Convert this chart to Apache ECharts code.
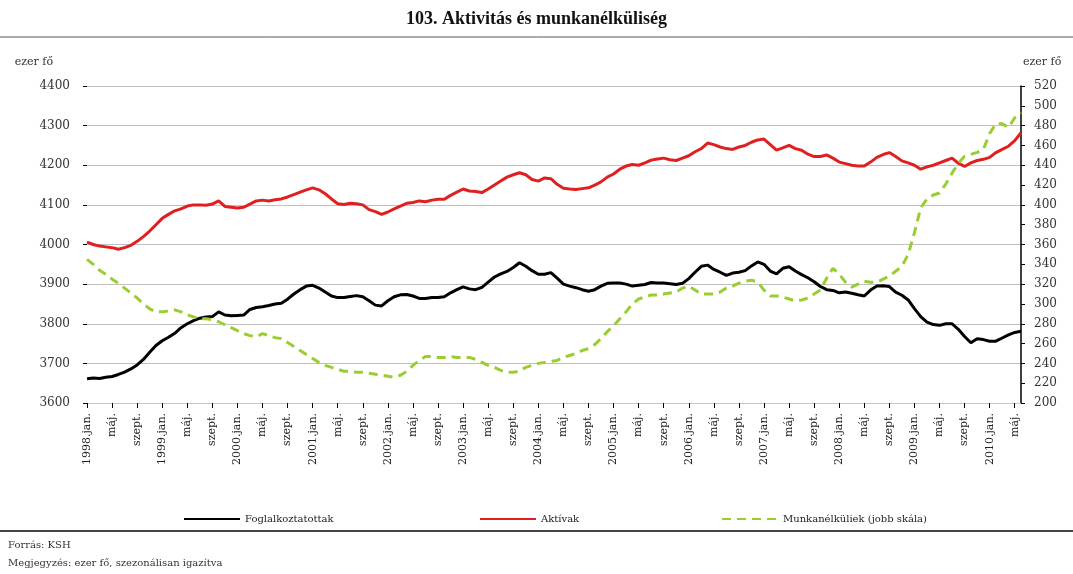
<!DOCTYPE html>
<html>
<head>
<meta charset="utf-8">
<script src="https://cdn.jsdelivr.net/npm/echarts@6/dist/echarts.min.js"></script>
<style>
  html, body { margin: 0; padding: 0; background: #fff; }
  #mainContent { width: 1073px; height: 574px; }
</style>
</head>
<body>
<div id="mainContent"></div>
<script>
// havi adatok 1998.jan. - 2010.jún.
var honapok = ['jan.', 'febr.', 'márc.', 'ápr.', 'máj.', 'jún.', 'júl.', 'aug.', 'szept.', 'okt.', 'nov.', 'dec.'];
var kezdoEv = 1998;
var honapokSzama = 150;

var foglalkoztatottak = [
    3661, 3663, 3662, 3665, 3667, 3672, 3678, 3686, 3696, 3710, 3728,
    3745, 3757, 3766, 3776, 3790, 3800, 3808, 3814, 3817, 3818,
    3830, 3822, 3820, 3821, 3822, 3836, 3841, 3843, 3846, 3850,
    3852, 3862, 3875, 3886, 3895, 3897, 3890, 3880, 3870, 3866,
    3866, 3869, 3871, 3868, 3858, 3847, 3845, 3858, 3868, 3873,
    3874, 3870, 3864, 3864, 3866, 3866, 3868, 3878, 3886, 3893,
    3888, 3886, 3892, 3905, 3918, 3926, 3932, 3942, 3954, 3945,
    3934, 3925, 3925, 3929, 3915, 3900, 3895, 3891, 3886, 3882,
    3886, 3895, 3902, 3903, 3903, 3900, 3895, 3897, 3899, 3904,
    3903, 3903, 3901, 3899, 3902, 3914, 3930, 3945, 3948, 3937,
    3930, 3922, 3928, 3930, 3934, 3946, 3956, 3950, 3933, 3926,
    3940, 3944, 3933, 3924, 3916, 3906, 3894, 3886, 3884, 3878,
    3880, 3877, 3873, 3870, 3885, 3895, 3896, 3894, 3880, 3872,
    3860, 3838, 3818, 3804, 3798, 3796, 3800, 3800, 3786, 3768,
    3752, 3762, 3760, 3756, 3756, 3764, 3772, 3778, 3781
];

var aktivak = [
    4006, 4000, 3996, 3994, 3992, 3988, 3992, 3998, 4008, 4020, 4034,
    4050, 4066, 4076, 4085, 4090, 4097, 4100, 4100, 4099, 4102,
    4110, 4096, 4094, 4092, 4094, 4102, 4110, 4112, 4110, 4113,
    4115, 4120, 4126, 4132, 4138, 4143, 4138, 4128, 4115, 4103,
    4101, 4104, 4103, 4100, 4088, 4083, 4076, 4082, 4090, 4097,
    4104, 4106, 4110, 4108, 4112, 4114, 4114, 4124, 4132, 4140,
    4135, 4134, 4131, 4140, 4150, 4160, 4170, 4176, 4181, 4176,
    4164, 4160, 4168, 4166, 4152, 4142, 4140, 4139, 4141, 4143,
    4150, 4158, 4170, 4178, 4190, 4198, 4202, 4200, 4206, 4213,
    4216, 4218, 4214, 4212, 4218, 4224, 4234, 4242, 4256, 4252,
    4246, 4242, 4240, 4246, 4250, 4258, 4264, 4266, 4252, 4238,
    4244, 4250, 4242, 4238, 4228, 4222, 4222, 4226, 4218, 4208,
    4204, 4200, 4198, 4198, 4208, 4220, 4227, 4232, 4222, 4211,
    4206, 4200, 4190, 4196, 4200, 4206, 4212, 4218, 4205, 4197,
    4206, 4212, 4215, 4220, 4232, 4240, 4248, 4262, 4282
];

var munkanelkuliek = [
    345, 340, 334, 330, 325, 321, 316, 311, 306, 300, 295,
    292, 292, 293, 294, 292, 289, 287, 285, 285, 284,
    282, 279, 276, 273, 270, 268, 267, 270, 268, 266,
    265, 261, 257, 253, 249, 245, 241, 238, 236, 234,
    232, 232, 231, 231, 230, 229, 228, 227, 226, 228,
    232, 238, 243, 247, 247, 246, 246, 247, 246, 246,
    246, 244, 241, 238, 236, 233, 231, 231, 232, 236,
    238, 240, 241, 242, 243, 246, 248, 250, 253, 255,
    259, 265, 272, 278, 285, 292, 300, 305, 307, 309,
    309, 310, 311, 312, 316, 318, 314, 310, 310, 310,
    312, 316, 318, 321, 323, 324, 322, 314, 308, 308,
    307, 305, 303, 304, 306, 310, 314, 326, 336, 330,
    322, 317, 320, 323, 322, 322, 325, 328, 333, 338,
    350, 372, 397, 406, 410, 412, 421, 432, 442, 449,
    451, 453, 456, 472, 482, 482, 478, 488, 493
];

var kategoriak = [];
for (var i = 0; i < honapokSzama; i++) {
    kategoriak.push((kezdoEv + Math.floor(i / 12)) + '.' + honapok[i % 12]);
}

var betu = 'DejaVu Serif, serif';
var cimBetu = 'Liberation Serif, Times New Roman, serif';

var myChart = echarts.init(document.getElementById('mainContent'));

option = {
    backgroundColor: '#fff',
    animation: false,
    title: {
        text: '103. Aktivitás és munkanélküliség',
        left: 'center',
        top: 5,
        textStyle: { fontFamily: cimBetu, fontSize: 18, fontWeight: 'bold', color: '#111' }
    },
    legend: [
        { data: ['Foglalkoztatottak'], left: 178, top: 509 },
        { data: ['Aktívak'], left: 474, top: 509 },
        { data: ['Munkanélküliek (jobb skála)'], left: 716, top: 509 }
    ].map(function (l) {
        l.itemWidth = 56;
        l.itemHeight = 6;
        l.itemGap = 6;
        l.itemStyle = { opacity: 0 };
        l.textStyle = { fontFamily: betu, fontSize: 10, color: '#222' };
        return l;
    }),
    grid: { left: 87, right: 52, top: 86, height: 317 },
    xAxis: {
        type: 'category',
        boundaryGap: false,
        data: kategoriak,
        axisLine: { show: true, lineStyle: { color: '#c8c8c8', width: 1 } },
        axisTick: { show: true, interval: 3, length: 5, lineStyle: { color: '#000' } },
        axisLabel: {
            interval: 3,
            rotate: 90,
            margin: 10,
            fontFamily: betu,
            fontSize: 11,
            color: '#222',
            formatter: function (v) {
                return v.indexOf('jan.') > 0 ? v : v.split('.')[1] + '.';
            }
        },
        splitLine: { show: false }
    },
    yAxis: [{
        type: 'value',
        min: 3600,
        max: 4400,
        interval: 100,
        name: 'ezer fő',
        nameGap: 18,
        nameTextStyle: { fontFamily: betu, fontSize: 11, color: '#333', align: 'right', padding: [0, 34, 0, 0] },
        axisLine: { show: false },
        axisTick: { show: true, length: 4, lineStyle: { color: '#000' } },
        axisLabel: {
            fontFamily: betu, fontSize: 12, color: '#333', margin: 17,
            formatter: function (v) { return String(v); }
        },
        splitLine: { lineStyle: { color: '#c0c0c0', width: 1 } }
    }, {
        type: 'value',
        position: 'right',
        min: 200,
        max: 520,
        interval: 20,
        name: 'ezer fő',
        nameGap: 18,
        nameTextStyle: { fontFamily: betu, fontSize: 11, color: '#333', align: 'left', padding: [0, 0, 0, 2] },
        axisLine: { show: true, lineStyle: { color: '#000', width: 1.5 } },
        axisTick: { show: true, length: 4, lineStyle: { color: '#000' } },
        axisLabel: {
            fontFamily: betu, fontSize: 12, color: '#333', margin: 13,
            formatter: function (v) { return String(v); }
        },
        splitLine: { show: false }
    }],
    series: [{
        name: 'Foglalkoztatottak',
        type: 'line',
        yAxisIndex: 0,
        symbol: 'none',
        data: foglalkoztatottak,
        lineStyle: { color: '#000', width: 3 },
        itemStyle: { color: '#000' }
    }, {
        name: 'Aktívak',
        type: 'line',
        yAxisIndex: 0,
        symbol: 'none',
        data: aktivak,
        lineStyle: { color: '#e02020', width: 3 },
        itemStyle: { color: '#e02020' }
    }, {
        name: 'Munkanélküliek (jobb skála)',
        type: 'line',
        yAxisIndex: 1,
        symbol: 'none',
        data: munkanelkuliek,
        lineStyle: { color: '#9acd32', width: 3, type: [9, 6] },
        itemStyle: { color: '#9acd32' }
    }],
    graphic: [{
        type: 'line',
        shape: { x1: 0, y1: 37, x2: 1073, y2: 37 },
        style: { stroke: '#555', lineWidth: 1 }
    }, {
        type: 'line',
        shape: { x1: 0, y1: 531, x2: 1073, y2: 531 },
        style: { stroke: '#444', lineWidth: 2 }
    }, {
        type: 'text',
        left: 8,
        top: 540,
        style: { text: 'Forrás: KSH', font: '10px ' + betu, fill: '#333' }
    }, {
        type: 'text',
        left: 8,
        top: 558,
        style: { text: 'Megjegyzés: ezer fő, szezonálisan igazítva', font: '10px ' + betu, fill: '#333' }
    }]
};

myChart.setOption(option);
</script>
</body>
</html>
